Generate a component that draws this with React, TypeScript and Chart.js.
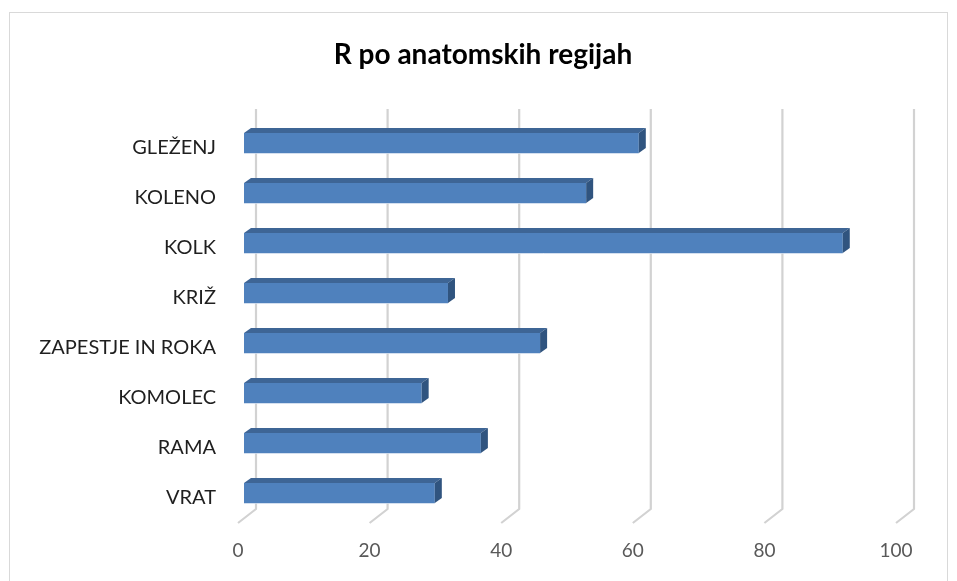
import React, { useEffect, useRef } from "react";
import { Chart, registerables } from "chart.js";

Chart.register(...registerables);

const categories = ["GLEŽENJ", "KOLENO", "KOLK", "KRIŽ", "ZAPESTJE IN ROKA", "KOMOLEC", "RAMA", "VRAT"];
const values = [60, 52, 91, 31, 45, 27, 36, 29];
const tickValues = [0, 20, 40, 60, 80, 100];
const titleText = "R po anatomskih regijah";

const FONT = "Lato, 'Open Sans', sans-serif";

// 3D offsets (relative to the bar front plane)
const BACK_X = 12, BACK_Y = -9;
const FRONT_X = -6, FRONT_Y = 5;
const DEPTH_X = 7, DEPTH_Y = 5;

const decorPlugin = {
  id: "decor3d",
  beforeDatasetsDraw(chart: any) {
    const ctx = chart.ctx;
    const xs = chart.scales.x;
    const ys = chart.scales.y;
    const area = chart.chartArea;
    ctx.save();
    // outer border
    ctx.strokeStyle = "#d9d9d9";
    ctx.lineWidth = 1;
    ctx.strokeRect(9.5, 12.5, 938, 640);
    // back wall gridlines + floor diagonals
    ctx.strokeStyle = "#d2d2d2";
    ctx.lineWidth = 2.2;
    ctx.lineJoin = "round";
    for (const v of tickValues) {
      const px = xs.getPixelForValue(v);
      ctx.beginPath();
      ctx.moveTo(px + BACK_X, area.top + BACK_Y);
      ctx.lineTo(px + BACK_X, area.bottom + BACK_Y);
      ctx.lineTo(px + FRONT_X, area.bottom + FRONT_Y);
      ctx.stroke();
    }
    // tick labels
    ctx.fillStyle = "#595959";
    ctx.font = `19px ${FONT}`;
    ctx.textAlign = "center";
    ctx.textBaseline = "middle";
    for (const v of tickValues) {
      const px = xs.getPixelForValue(v);
      ctx.fillText(String(v), px + FRONT_X, area.bottom + 33);
    }
    // category labels
    ctx.fillStyle = "#1f1f1f";
    ctx.font = `20px ${FONT}`;
    ctx.textAlign = "right";
    categories.forEach((c, i) => {
      ctx.fillText(c, area.left - 28, ys.getPixelForValue(i) + FRONT_Y);
    });
    // title
    ctx.fillStyle = "#000000";
    ctx.font = `bold 28px ${FONT}`;
    ctx.textAlign = "center";
    ctx.fillText(titleText, 483, 55);
    ctx.restore();
  },
  afterDatasetsDraw(chart: any) {
    const ctx = chart.ctx;
    const meta = chart.getDatasetMeta(0);
    ctx.save();
    meta.data.forEach((bar: any) => {
      const { x, y, base, height } = bar.getProps(["x", "y", "base", "height"], true);
      const t = y - height / 2;
      const b = y + height / 2;
      // top face
      ctx.fillStyle = "#3e6595";
      ctx.beginPath();
      ctx.moveTo(base, t);
      ctx.lineTo(x, t);
      ctx.lineTo(x + DEPTH_X, t - DEPTH_Y);
      ctx.lineTo(base + DEPTH_X, t - DEPTH_Y);
      ctx.closePath();
      ctx.fill();
      // side face
      ctx.fillStyle = "#30547f";
      ctx.beginPath();
      ctx.moveTo(x, t);
      ctx.lineTo(x + DEPTH_X, t - DEPTH_Y);
      ctx.lineTo(x + DEPTH_X, b - DEPTH_Y);
      ctx.lineTo(x, b);
      ctx.closePath();
      ctx.fill();
      // light bottom edge
      ctx.strokeStyle = "rgba(200,215,235,0.8)";
      ctx.lineWidth = 1;
      ctx.beginPath();
      ctx.moveTo(base, b + 0.5);
      ctx.lineTo(x, b + 0.5);
      ctx.stroke();
    });
    ctx.restore();
  },
};

export default function App() {
  const canvasRef = useRef<HTMLCanvasElement | null>(null);

  useEffect(() => {
    if (!canvasRef.current) return;
    const chart = new Chart(canvasRef.current, {
      type: "bar",
      data: {
        labels: categories,
        datasets: [
          {
            data: values,
            backgroundColor: "#4f81bd",
            borderWidth: 0,
            barPercentage: 0.4,
            categoryPercentage: 1.0,
          },
        ],
      },
      options: {
        indexAxis: "y",
        responsive: false,
        animation: false,
        events: [],
        layout: { padding: { left: 244, right: 55, top: 118, bottom: 63 } },
        plugins: { legend: { display: false }, title: { display: false }, tooltip: { enabled: false } },
        scales: {
          x: { display: false, min: 0, max: 100 },
          y: { display: false },
        },
      },
      plugins: [decorPlugin],
    });
    return () => chart.destroy();
  }, []);

  return (
    <div style={{ position: "fixed", left: 0, top: 0, width: 957, height: 581, background: "#fff" }}>
      <canvas ref={canvasRef} width={957} height={581} style={{ width: 957, height: 581, display: "block" }} />
    </div>
  );
}
